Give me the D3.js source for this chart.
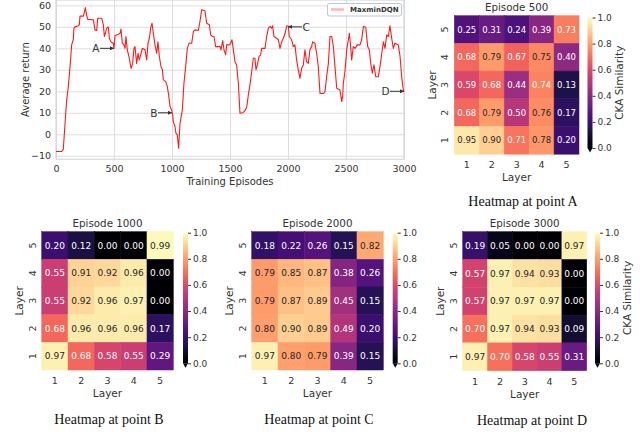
<!DOCTYPE html>
<html>
<head>
<meta charset="utf-8">
<script src="https://cdn.jsdelivr.net/npm/d3@7"></script>
<style>
  body { margin: 0; background: #fff; }
  svg { display: block; font-family: "DejaVu Sans", sans-serif; }
</style>
</head>
<body>
<svg id="chart" width="640" height="445"></svg>
<script>
// training curve: [episode, average return]
const returnCurve = [
  [0,-8],[50,-8],[63,-7],[78,5],[92,16],[106,22],[121,31.5],[135,41.6],[149,44],[155,49.4],[164,50],
  [193,50.5],[201,51],[207,55],[236,55],[244,56.7],[253,59],[264,55.6],[273,53.5],[322,53.3],[336,48.6],
  [351,48.3],[359,54],[394,54],[408,51],[417,45.5],[425,47],[437,49.4],[451,50],[460,44.7],[474,43],
  [494,42.4],[500,40],[509,46],[537,46.6],[552,47],[560,49],[572,42.4],[586,41.6],[595,40],[603,45.5],
  [615,39.3],[632,35.4],[647,30.7],[661,33],[672,40],[681,40.8],[695,33],[707,37.7],[718,34.6],[730,37],
  [744,40],[767,39.3],[782,34.6],[793,42.4],[805,44.7],[816,49.4],[828,51.7],[839,47],[853,41.6],[868,37.7],
  [879,43],[891,36.2],[905,31.5],[917,30],[925,25.3],[946,24.5],[960,22.2],[971,18.3],[983,12.9],[997,11.3],
  [1006,9],[1011,5.9],[1026,3.6],[1034,0.5],[1046,-0.3],[1057,-6.5],[1069,5],[1077,7.5],[1089,11.3],
  [1103,23.8],[1118,31.5],[1132,40],[1147,42.4],[1170,42.4],[1184,47.8],[1198,48.6],[1227,48.3],[1241,52.5],
  [1256,58],[1284,57.5],[1299,51.7],[1322,51],[1333,46.3],[1350,45.5],[1362,45.5],[1376,40.8],[1414,40.8],
  [1422,39.3],[1437,43.6],[1448,39.3],[1463,37],[1471,41.6],[1494,41.6],[1506,42.4],[1517,44],[1529,39.3],
  [1543,33.8],[1557,32.3],[1572,23.8],[1586,9.8],[1609,10],[1629,11],[1644,12.6],[1658,18.3],[1672,23],
  [1687,29.2],[1701,35.4],[1715,35.4],[1724,30],[1736,32.3],[1750,36.2],[1764,37],[1773,40],[1802,40],
  [1816,45.5],[1831,49.4],[1845,50.2],[1859,49.4],[1868,50.5],[1879,45.5],[1902,44.7],[1917,44],[1931,40],
  [1945,43],[1960,44.7],[1975,47],[1989,50.5],[2003,50.3],[2011,45.5],[2031,44],[2046,40.8],[2060,41.6],
  [2074,34.6],[2089,30],[2103,26],[2117,30.7],[2132,32.3],[2146,39.3],[2160,33.8],[2175,33],[2189,39.3],
  [2204,40.8],[2212,43],[2232,42.4],[2247,37.7],[2261,31.5],[2276,19],[2305,19],[2319,20],[2333,26.8],
  [2348,33],[2362,45.5],[2377,45.5],[2391,40.8],[2405,31.5],[2420,21.4],[2448,20.6],[2463,15.2],[2471,17.5],
  [2477,23.8],[2491,29.2],[2506,39.3],[2529,47],[2540,40.8],[2549,34.6],[2563,40.8],[2578,40],[2598,41.6],
  [2621,41.6],[2635,44],[2650,50.2],[2670,49.8],[2687,40.8],[2701,39.3],[2713,33],[2727,28.4],[2741,32.3],
  [2756,26.8],[2779,26.8],[2793,31.5],[2807,37],[2822,43],[2836,40],[2851,46.3],[2865,45.5],[2879,50.5],
  [2894,44.7],[2908,40],[2922,42.4],[2951,41.6],[2966,36.2],[2980,26.8],[2994,20.6],[3000,19.9]
];
const xTicks = [0, 500, 1000, 1500, 2000, 2500, 3000];
const yTicks = [-10, 0, 10, 20, 30, 40, 50, 60];
const seriesName = 'MaxminDQN';

// marked points on the curve
const pointLabels = ['A', 'B', 'C', 'D'];
const pointEpisodes = [500, 1000, 2000, 3000];
const pointReturns = [40, 10, 50, 20];
const pointSide = [-1, -1, 1, -1]; // which side the letter sits

// CKA heatmaps, rows listed top (layer 5) to bottom (layer 1)
const heatTitles = ['Episode 500', 'Episode 1000', 'Episode 2000', 'Episode 3000'];
const heatCaptions = ['Heatmap at point A', 'Heatmap at point B', 'Heatmap at point C', 'Heatmap at point D'];
const layers = [1, 2, 3, 4, 5];
const cbTicks = [0, 0.2, 0.4, 0.6, 0.8, 1.0];
const ckaA = [
  [0.25, 0.31, 0.24, 0.39, 0.73],
  [0.68, 0.79, 0.67, 0.75, 0.40],
  [0.59, 0.68, 0.44, 0.74, 0.13],
  [0.68, 0.79, 0.50, 0.76, 0.17],
  [0.95, 0.90, 0.71, 0.78, 0.20]
];
const ckaB = [
  [0.20, 0.12, 0.00, 0.00, 0.99],
  [0.55, 0.91, 0.92, 0.96, 0.00],
  [0.55, 0.92, 0.96, 0.97, 0.00],
  [0.68, 0.96, 0.96, 0.96, 0.17],
  [0.97, 0.68, 0.58, 0.55, 0.29]
];
const ckaC = [
  [0.18, 0.22, 0.26, 0.15, 0.82],
  [0.79, 0.85, 0.87, 0.38, 0.26],
  [0.79, 0.87, 0.89, 0.45, 0.15],
  [0.80, 0.90, 0.89, 0.49, 0.20],
  [0.97, 0.80, 0.79, 0.39, 0.15]
];
const ckaD = [
  [0.19, 0.05, 0.00, 0.00, 0.97],
  [0.57, 0.97, 0.94, 0.93, 0.00],
  [0.57, 0.97, 0.97, 0.97, 0.00],
  [0.70, 0.97, 0.94, 0.93, 0.09],
  [0.97, 0.70, 0.58, 0.55, 0.31]
];

const svg = d3.select('#chart');
const ink = '#333';

// ---------- line chart ----------
const x = d3.scaleLinear().domain([0, 3000]).range([56, 404]);
const y = d3.scaleLinear().domain([-11.6, 62.5]).range([159.2, 0]);

const plot = svg.append('g');
plot.append('g')
  .attr('transform', `translate(0,${y.range()[0]})`)
  .call(d3.axisBottom(x).tickValues(xTicks).tickFormat(d3.format('d'))
    .tickSize(-(y.range()[0] - y.range()[1])).tickPadding(6))
  .call(g => g.select('.domain').remove())
  .call(g => g.selectAll('.tick line').attr('stroke', '#dedede'))
  .call(g => g.selectAll('.tick text').attr('fill', ink).attr('font-size', 9.5).attr('font-family', 'DejaVu Sans'));

plot.append('g')
  .attr('transform', `translate(${x.range()[0]},0)`)
  .call(d3.axisLeft(y).tickValues(yTicks).tickSize(-(x.range()[1] - x.range()[0])).tickPadding(5)
    .tickFormat(d => d < 0 ? '\u2212' + Math.abs(d) : d))
  .call(g => g.select('.domain').remove())
  .call(g => g.selectAll('.tick line').attr('stroke', '#dedede'))
  .call(g => g.selectAll('.tick text').attr('fill', ink).attr('font-size', 9.5).attr('font-family', 'DejaVu Sans'));

plot.append('rect')
  .attr('x', x.range()[0]).attr('y', y.range()[1])
  .attr('width', x.range()[1] - x.range()[0]).attr('height', y.range()[0] - y.range()[1])
  .attr('fill', 'none').attr('stroke', '#cfcfcf');

plot.append('path')
  .datum(returnCurve)
  .attr('fill', 'none')
  .attr('stroke', '#ff1a1a')
  .attr('stroke-width', 1.1)
  .attr('stroke-linejoin', 'round')
  .attr('d', d3.line().x(d => x(d[0])).y(d => y(d[1])));

plot.append('text')
  .attr('transform', `translate(28.5,${(y.range()[0] + y.range()[1]) / 2}) rotate(-90)`)
  .attr('text-anchor', 'middle').attr('fill', ink).attr('font-size', 10)
  .text('Average return');
plot.append('text')
  .attr('x', (x.range()[0] + x.range()[1]) / 2).attr('y', 184.5)
  .attr('text-anchor', 'middle').attr('fill', ink).attr('font-size', 10)
  .text('Training Episodes');

// arrows to A..D
svg.append('defs').append('marker')
  .attr('id', 'head').attr('viewBox', '0 0 10 10').attr('refX', 10).attr('refY', 5)
  .attr('markerWidth', 4).attr('markerHeight', 4).attr('orient', 'auto')
  .append('path').attr('d', 'M0,0L10,5L0,10z').attr('fill', ink);

pointLabels.forEach((lab, i) => {
  const tx = x(pointEpisodes[i]), ty = y(pointReturns[i]);
  const s = pointSide[i];
  plot.append('line')
    .attr('x1', tx + s * 14).attr('x2', tx).attr('y1', ty).attr('y2', ty)
    .attr('stroke', ink).attr('stroke-width', 1).attr('marker-end', 'url(#head)');
  plot.append('text')
    .attr('x', tx + s * 14.5).attr('y', ty).attr('dy', '0.36em')
    .attr('text-anchor', s < 0 ? 'end' : 'start')
    .attr('fill', ink).attr('font-size', 10.5)
    .text(lab);
});

// legend
const leg = plot.append('g');
leg.append('rect').attr('x', 327.5).attr('y', 3.5).attr('width', 74).attr('height', 12.5)
  .attr('rx', 2).attr('fill', '#fff').attr('stroke', '#b8c8e0');
leg.append('line').attr('x1', 331).attr('x2', 344).attr('y1', 9.5).attr('y2', 9.5)
  .attr('stroke', '#ff9a9a').attr('stroke-width', 2.5).attr('opacity', 0.7);
leg.append('text').attr('x', 350).attr('y', 9.8).attr('dy', '0.35em')
  .attr('font-size', 7).attr('font-weight', 'bold').attr('fill', ink)
  .text(seriesName);

// ---------- heatmaps ----------
const color = d3.scaleSequential(d3.interpolateMagma).domain([0, 1]);
function luminance(c) {
  const rgb = d3.rgb(c);
  const lin = v => { v /= 255; return v <= 0.03928 ? v / 12.92 : Math.pow((v + 0.055) / 1.055, 2.4); };
  return 0.2126 * lin(rgb.r) + 0.7152 * lin(rgb.g) + 0.0722 * lin(rgb.b);
}

const grad = svg.select('defs').append('linearGradient')
  .attr('id', 'magma').attr('x1', 0).attr('x2', 0).attr('y1', 1).attr('y2', 0);
d3.range(0, 1.0001, 0.05).forEach(t => {
  grad.append('stop').attr('offset', t).attr('stop-color', color(t));
});

const panels = [
  { m: ckaA, x0: 454.3, x1: 579, y0: 15.7, y1: 154.2, cbX: 587.5, cbTop: 17.5, cbZero: 148, cbLabel: true, capX: 523, capY: 206, fs: 8.5 },
  { m: ckaB, x0: 41.7, x1: 173.3, y0: 231.7, y1: 370, cbX: 183, cbTop: 232.7, cbZero: 363.3, cbLabel: false, capX: 109, capY: 424, fs: 9 },
  { m: ckaC, x0: 251.7, x1: 383.3, y0: 231.7, y1: 370, cbX: 392.7, cbTop: 232.7, cbZero: 363.3, cbLabel: false, capX: 319, capY: 424, fs: 9 },
  { m: ckaD, x0: 462.7, x1: 586.7, y0: 231.7, y1: 370.7, cbX: 595, cbTop: 232.7, cbZero: 363.3, cbLabel: true, capX: 532, capY: 425, fs: 9 }
];

panels.forEach((p, k) => {
  const g = svg.append('g');
  const hx = d3.scaleBand().domain(layers).range([p.x0, p.x1]);
  const hy = d3.scaleBand().domain(layers.slice().reverse()).range([p.y0, p.y1]);

  const cells = [];
  p.m.forEach((row, r) => row.forEach((v, c) => cells.push({ row: layers[4 - r], col: layers[c], v })));

  g.selectAll('rect.cell').data(cells).enter().append('rect')
    .attr('class', 'cell')
    .attr('x', d => hx(d.col)).attr('y', d => hy(d.row))
    .attr('width', hx.bandwidth()).attr('height', hy.bandwidth())
    .attr('fill', d => color(d.v)).attr('stroke', d => color(d.v)).attr('stroke-width', 0.5);

  g.selectAll('text.val').data(cells).enter().append('text')
    .attr('x', d => hx(d.col) + hx.bandwidth() / 2)
    .attr('y', d => hy(d.row) + hy.bandwidth() / 2)
    .attr('dy', '0.36em').attr('text-anchor', 'middle')
    .attr('font-size', p.fs)
    .attr('fill', d => luminance(color(d.v)) > 0.385 ? '#262626' : '#fff')
    .text(d => d.v.toFixed(2));

  // title
  g.append('text').attr('x', (p.x0 + p.x1) / 2).attr('y', p.y0 - 4.5)
    .attr('text-anchor', 'middle').attr('font-size', 10.3).attr('fill', ink)
    .text(heatTitles[k]);

  // x ticks + label
  g.selectAll('text.xt').data(layers).enter().append('text')
    .attr('x', d => hx(d) + hx.bandwidth() / 2).attr('y', p.y1 + 14)
    .attr('text-anchor', 'middle').attr('font-size', 9.5).attr('fill', ink)
    .text(d => d);
  g.append('text').attr('x', (p.x0 + p.x1) / 2).attr('y', p.y1 + 27)
    .attr('text-anchor', 'middle').attr('font-size', 10.5).attr('fill', ink)
    .text('Layer');

  // y ticks (rotated) + label
  g.selectAll('text.yt').data(layers).enter().append('text')
    .attr('transform', d => `translate(${p.x0 - 9.5},${hy(d) + hy.bandwidth() / 2}) rotate(-90)`)
    .attr('dy', '0.36em').attr('text-anchor', 'middle').attr('font-size', 9.5).attr('fill', ink)
    .text(d => d);
  g.append('text')
    .attr('transform', `translate(${p.x0 - 22},${(p.y0 + p.y1) / 2}) rotate(-90)`)
    .attr('dy', '0.36em').attr('text-anchor', 'middle').attr('font-size', 10.5).attr('fill', ink)
    .text('Layer');

  // colorbar
  const cb = d3.scaleLinear().domain([0, 1]).range([p.cbZero, p.cbTop]);
  const cbW = 5;
  g.append('rect').attr('x', p.cbX).attr('y', p.cbTop).attr('width', cbW)
    .attr('height', p.cbZero - p.cbTop).attr('fill', 'url(#magma)');
  g.append('path')
    .attr('d', `M${p.cbX},${p.cbZero}L${p.cbX + cbW},${p.cbZero}L${p.cbX + cbW / 2},${p.cbZero + 4.5}Z`)
    .attr('fill', color(0));
  g.append('g')
    .attr('transform', `translate(${p.cbX + cbW},0)`)
    .call(d3.axisRight(cb).tickValues(cbTicks).tickSize(3).tickPadding(2).tickFormat(d3.format('.1f')))
    .call(a => a.select('.domain').remove())
    .call(a => a.selectAll('.tick line').attr('stroke', ink))
    .call(a => a.selectAll('.tick text').attr('fill', ink).attr('font-size', 9).attr('font-family', 'DejaVu Sans'));
  if (p.cbLabel) {
    g.append('text')
      .attr('transform', `translate(${p.cbX + 32},${(p.cbTop + p.cbZero) / 2}) rotate(-90)`)
      .attr('dy', '0.36em').attr('text-anchor', 'middle').attr('font-size', 10.5).attr('fill', ink)
      .text('CKA Similarity');
  }

  // caption
  g.append('text').attr('x', p.capX).attr('y', p.capY)
    .attr('text-anchor', 'middle').attr('font-size', 14)
    .attr('font-family', '"Liberation Serif", "Times New Roman", serif').attr('fill', '#111')
    .text(heatCaptions[k]);
});
</script>
</body>
</html>
